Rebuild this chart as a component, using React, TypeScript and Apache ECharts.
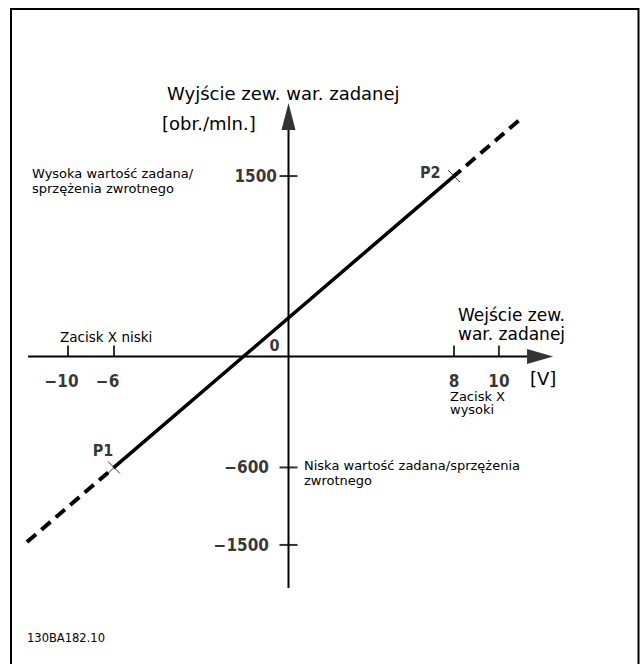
import React, { useEffect, useRef } from 'react';
import * as echarts from 'echarts';

// ---- data (real units) ----
const xTickValues = [-10, -6, 8, 10]; // input [V]
const yTickValues = [1500, -600, -1500]; // output [obr./min.]
const pointNames = ['P1', 'P2'];
const pointX = [-6, 8];
const pointY = [-600, 1500];
const originText = '0';

// ---- schematic (not to scale) placement of real values on the drawing axes ----
const xWarp: [number, number][] = [[-10, -10.5], [-6, -8.31], [0, 0], [8, 7.88], [10, 10.02]];
const yWarp: [number, number][] = [[-1500, -1532], [-600, -902], [0, 0], [1500, 1467]];

// axis extents in drawing units
const xAxisSpan = [-12.4, 11.36];
const xArrowAt = 11.98;
const yAxisSpan = [-1882, 1841];
const yArrowAt = 1951;
const lowerExt = 0.256;
const upperExt = 0.2;

function warp(table: [number, number][], v: number): number {
  for (let i = 0; i < table.length - 1; i++) {
    const [a0, b0] = table[i];
    const [a1, b1] = table[i + 1];
    if (v >= a0 && v <= a1) return b0 + ((v - a0) * (b1 - b0)) / (a1 - a0);
  }
  if (v < table[0][0]) {
    const [a0, b0] = table[0];
    const [a1, b1] = table[1];
    return b0 + ((v - a0) * (b1 - b0)) / (a1 - a0);
  }
  const n = table.length;
  const [a0, b0] = table[n - 2];
  const [a1, b1] = table[n - 1];
  return b0 + ((v - a0) * (b1 - b0)) / (a1 - a0);
}

const fmt = (v: number) => (v < 0 ? '\u2212' + Math.abs(v) : String(v));

const BOLD = 'DejaVu Sans Condensed';
const REG = 'DejaVu Sans';

function txt(text: string, x: number, y: number, size: number) {
  return {
    type: 'text', x, y, silent: true,
    style: { text, fontFamily: REG, fontSize: size, fill: '#000', verticalAlign: 'middle', align: 'left' },
  };
}

export default function App() {
  const ref = useRef<HTMLDivElement>(null);
  useEffect(() => {
    if (!ref.current) return;
    const chart = echarts.init(ref.current, undefined, { renderer: 'svg' });

    const pts = pointX.map((x, i) => [warp(xWarp, x), warp(yWarp, pointY[i])]);
    const [p1, p2] = pts;
    const dx = p2[0] - p1[0];
    const dy = p2[1] - p1[1];
    const lowEnd = [p1[0] - lowerExt * dx, p1[1] - lowerExt * dy];
    const highEnd = [p2[0] + upperExt * dx, p2[1] + upperExt * dy];

    const black = '#000';
    const hidden = 'rgba(0,0,0,0)';

    const option: any = {
      animation: false,
      backgroundColor: '#fff',
      grid: { left: 15.5, width: 609, top: 61.3, height: 541.2 },
      xAxis: { type: 'value', min: -13, max: 16, show: false },
      yAxis: { type: 'value', min: -2000, max: 2400, show: false },
      graphic: [
        {
          type: 'rect',
          shape: { x: 11, y: 9, width: 627.5, height: 700 },
          style: { fill: 'none', stroke: black, lineWidth: 2 },
          silent: true,
        },
        txt('Wyjście zew. war. zadanej', 167, 93, 18),
        txt('[obr./mln.]', 162, 123, 18),
        txt('Wejście zew.', 458, 314.5, 17),
        txt('war. zadanej', 458, 333.5, 17),
        txt('[V]', 530, 378, 18),
        txt('Wysoka wartość zadana/', 32, 173.5, 13),
        txt('sprzężenia zwrotnego', 32, 188.5, 13),
        txt('Zacisk X niski', 60, 337, 13.5),
        txt('Zacisk X', 450, 396, 13),
        txt('wysoki', 450, 409.5, 13),
        txt('Niska wartość zadana/sprzężenia', 304, 465.5, 13),
        txt('zwrotnego', 304, 480.5, 13),
        txt('130BA182.10', 27, 638, 11.5),
      ],
      series: [
        {
          type: 'line', silent: true, symbol: 'none',
          data: [[xAxisSpan[0], 0], [xAxisSpan[1], 0]],
          lineStyle: { color: black, width: 2 },
        },
        {
          type: 'line', silent: true, symbol: 'none',
          data: [[0, yAxisSpan[0]], [0, yAxisSpan[1]]],
          lineStyle: { color: black, width: 2 },
        },
        {
          type: 'scatter', silent: true, symbol: 'triangle',
          itemStyle: { color: black },
          data: [
            { value: [xArrowAt, 0], symbolRotate: -90, symbolSize: [15, 26] },
            { value: [0, yArrowAt], symbolRotate: 0, symbolSize: [14, 27] },
          ],
        },
        // x ticks
        {
          type: 'scatter', silent: true, symbol: 'rect', symbolSize: [2, 11], symbolOffset: [0, -5.5],
          itemStyle: { color: black },
          data: xTickValues.map((v) => [warp(xWarp, v), 0]),
        },
        // y ticks
        {
          type: 'scatter', silent: true, symbol: 'rect', symbolSize: [18, 2],
          itemStyle: { color: black },
          data: yTickValues.map((v) => [0, warp(yWarp, v)]),
        },
        // x tick labels
        {
          type: 'scatter', silent: true, symbol: 'circle', symbolSize: 1,
          itemStyle: { color: hidden },
          label: {
            show: true, position: 'bottom', distance: 13.5, color: black,
            fontFamily: BOLD, fontWeight: 'bold', fontSize: 17, lineHeight: 20,
            formatter: (p: any) => fmt(p.data.raw),
          },
          data: xTickValues.map((v) => ({
            value: [warp(xWarp, v), 0],
            raw: v,
            label: { offset: [v < 0 ? -6.4 : 0, 0] },
          })),
        },
        // y tick labels
        {
          type: 'scatter', silent: true, symbol: 'circle', symbolSize: 1,
          itemStyle: { color: hidden },
          label: {
            show: true, position: 'left', color: black,
            fontFamily: BOLD, fontWeight: 'bold', fontSize: 17,
            formatter: (p: any) => fmt(p.data.raw),
          },
          data: yTickValues.map((v) => ({
            value: [0, warp(yWarp, v)],
            raw: v,
            label: { distance: v < 0 ? 19 : 11 },
          })),
        },
        // origin label
        {
          type: 'scatter', silent: true, symbol: 'circle', symbolSize: 1,
          itemStyle: { color: hidden },
          label: {
            show: true, position: 'left', distance: 8.5, offset: [0, -11.5], color: black,
            fontFamily: BOLD, fontWeight: 'bold', fontSize: 16,
            formatter: () => originText,
          },
          data: [[0, 0]],
        },
        // solid characteristic P1-P2
        {
          type: 'line', silent: true, symbol: 'none',
          data: [p1, p2],
          lineStyle: { color: black, width: 3.5 },
          z: 3,
        },
        {
          type: 'line', silent: true, symbol: 'none',
          data: [lowEnd, p1],
          lineStyle: { color: black, width: 4, type: [12, 7] },
          z: 3,
        },
        {
          type: 'line', silent: true, symbol: 'none',
          data: [p2, highEnd],
          lineStyle: { color: black, width: 4, type: [12, 7], dashOffset: 3 },
          z: 3,
        },
        // P markers
        {
          type: 'scatter', silent: true,
          symbol: 'path://M0 0L10 10M10 0L0 10', symbolSize: 12,
          itemStyle: { color: black, borderColor: black, borderWidth: 1 },
          z: 4,
          label: {
            show: true, color: black, fontFamily: BOLD, fontWeight: 'bold', fontSize: 16,
            formatter: (p: any) => p.data.name,
          },
          data: pts.map((pt, i) => ({
            value: pt,
            name: pointNames[i],
            label: i === 0
              ? { position: 'top', distance: 2, offset: [-11, 0] }
              : { position: 'left', distance: 7, offset: [0, -4] },
          })),
        },
      ],
    };
    chart.setOption(option);
    return () => chart.dispose();
  }, []);

  return (
    <div
      ref={ref}
      style={{ position: 'fixed', left: 0, top: 0, width: 642, height: 664, background: '#fff' }}
    />
  );
}
